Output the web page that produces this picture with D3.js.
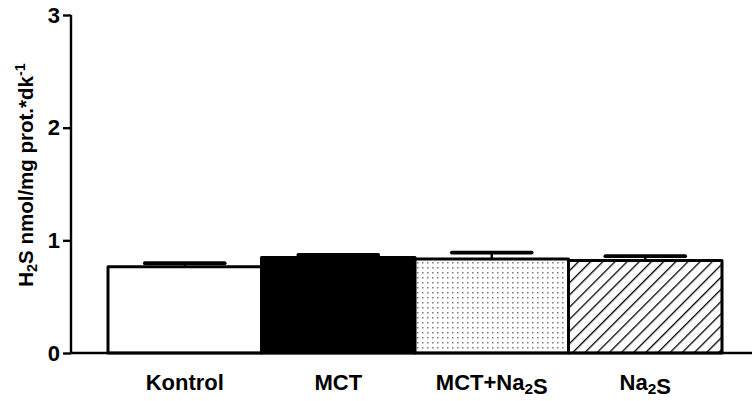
<!DOCTYPE html>
<html>
<head>
<meta charset="utf-8">
<script src="https://cdn.jsdelivr.net/npm/d3@7/dist/d3.min.js"></script>
<style>
  html, body { margin: 0; padding: 0; background: #fff; }
  svg { display: block; }
  text { font-family: "Liberation Sans", Arial, sans-serif; font-weight: bold; fill: #000; }
</style>
</head>
<body>
<svg id="chart" width="752" height="401"></svg>
<script>
// Group labels (plain names; subscripts handled when rendering)
const categories = ["Kontrol", "MCT", "MCT+Na2S", "Na2S"];
// Mean H2S production per group
const means = [0.765, 0.848, 0.835, 0.822];
// Standard error of the mean (upper error bar only)
const errors = [0.032, 0.022, 0.056, 0.037];
// Fill style per group
const fills = ["white", "black", "dots", "hatch"];
// Y axis ticks
const yTicks = [0, 1, 2, 3];

const svg = d3.select("#chart");
const W = 752, H = 401;
const axisX = 71, axisBottom = 353, axisTop = 15;

const x = d3.scaleBand().domain(categories).range([108, 722]).padding(0);
const y = d3.scaleLinear().domain([0, 3]).range([axisBottom, axisTop]);

// Patterns
const defs = svg.append("defs");
const dots = defs.append("pattern")
  .attr("id", "dots").attr("patternUnits", "userSpaceOnUse")
  .attr("width", 5).attr("height", 5);
dots.append("rect").attr("width", 5).attr("height", 5).attr("fill", "#fff");
dots.append("rect").attr("x", 2).attr("y", 2).attr("width", 1.5).attr("height", 1.5).attr("fill", "#7a7a7a");

const hatch = defs.append("pattern")
  .attr("id", "hatch").attr("patternUnits", "userSpaceOnUse")
  .attr("width", 8.6).attr("height", 8.6)
  .attr("patternTransform", "rotate(45)");
hatch.append("rect").attr("width", 8.6).attr("height", 8.6).attr("fill", "#fff");
hatch.append("line").attr("x1", 0).attr("y1", 0).attr("x2", 0).attr("y2", 8.6)
  .attr("stroke", "#000").attr("stroke-width", 2.6);

function fillFor(f) {
  if (f === "dots") return "url(#dots)";
  if (f === "hatch") return "url(#hatch)";
  return f;
}

const data = categories.map((c, i) => ({ c, m: means[i], e: errors[i], f: fills[i] }));

// Error bars (drawn first so the bar outline sits on top of the stem)
const capW = x.bandwidth() * 0.52;
const eb = svg.append("g");
data.forEach(d => {
  const cx = x(d.c) + x.bandwidth() / 2;
  eb.append("line")
    .attr("x1", cx).attr("x2", cx)
    .attr("y1", y(d.m)).attr("y2", y(d.m + d.e))
    .attr("stroke", "#000").attr("stroke-width", 2.4);
  eb.append("line")
    .attr("x1", cx - capW / 2).attr("x2", cx + capW / 2)
    .attr("y1", y(d.m + d.e)).attr("y2", y(d.m + d.e))
    .attr("stroke", "#000").attr("stroke-width", 3.8).attr("stroke-linecap", "round");
});

// Bars
svg.append("g").selectAll("rect").data(data).enter().append("rect")
  .attr("x", d => x(d.c))
  .attr("y", d => y(d.m))
  .attr("width", x.bandwidth())
  .attr("height", d => y(0) - y(d.m))
  .attr("fill", d => fillFor(d.f))
  .attr("stroke", "#000")
  .attr("stroke-width", 3)
  .attr("stroke-linejoin", "round");

// Y axis
const yAxis = d3.axisLeft(y).tickValues(yTicks).tickFormat(d3.format("d")).tickSize(8).tickPadding(3);
const gy = svg.append("g").attr("transform", `translate(${axisX},0)`).call(yAxis);
gy.select(".domain").attr("stroke-width", 2.4).attr("d", `M0,${axisTop}V${axisBottom}`);
gy.selectAll(".tick line").attr("stroke-width", 2.4);
gy.selectAll(".tick text").style("font-size", "22px").style("font-family", "'Liberation Sans', Arial, sans-serif").style("font-weight", "bold");

// X axis baseline
svg.append("line")
  .attr("x1", axisX).attr("x2", W)
  .attr("y1", axisBottom).attr("y2", axisBottom)
  .attr("stroke", "#000").attr("stroke-width", 2.4);

// Labels with chemical subscripts
function chemLabel(sel, label) {
  const parts = label.split(/(2)/);
  parts.forEach(p => {
    if (p === "2") {
      sel.append("tspan").attr("dy", 4).style("font-size", "0.7em").text("2");
      sel.append("tspan").attr("dy", -4).text("");
    } else if (p.length) {
      sel.append("tspan").text(p);
    }
  });
}

const xl = svg.append("g");
categories.forEach(c => {
  const t = xl.append("text")
    .attr("x", x(c) + x.bandwidth() / 2)
    .attr("y", 390)
    .attr("text-anchor", "middle")
    .style("font-size", "22px");
  chemLabel(t, c);
});

// Y axis title
const yt = svg.append("text")
  .attr("transform", "translate(33,175) rotate(-90)")
  .attr("text-anchor", "middle")
  .style("font-size", "20.5px");
yt.append("tspan").text("H");
yt.append("tspan").attr("dy", 4).style("font-size", "0.7em").text("2");
yt.append("tspan").attr("dy", -4).text("S nmol/mg prot.*dk");
yt.append("tspan").attr("dy", -8).style("font-size", "0.7em").text("-1");
</script>
</body>
</html>
